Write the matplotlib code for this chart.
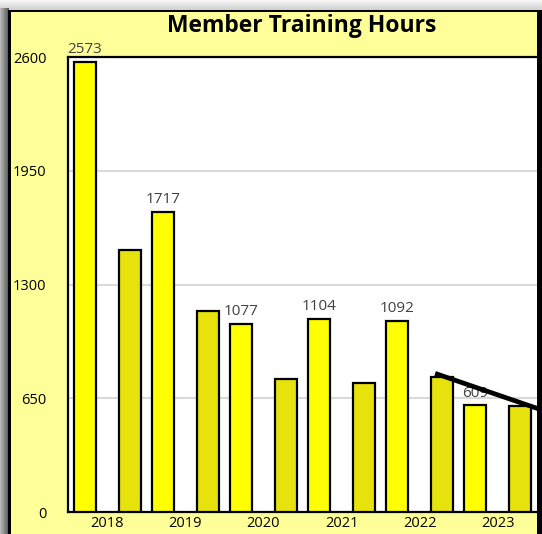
import matplotlib
matplotlib.use("Agg")
import matplotlib.pyplot as plt
import numpy as np
from matplotlib.patches import Rectangle

# ---- data ----
years = ["2018", "2019", "2020", "2021", "2022", "2023"]
bright_values = [2573, 1717, 1077, 1104, 1092, 609]
dark_values = [1497, 1146, 760, 740, 772, 605]
bright_labels = ["2573", "1717", "1077", "1104", "1092", "609"]
trend_pos = [4.2, 5.6]
trend_values = [792, 578]
y_ticks = [0, 650, 1300, 1950, 2600]

W, H = 542, 534
fig = plt.figure(figsize=(W / 100, H / 100), dpi=100)
fig.patch.set_facecolor("#F2F2F2")

# background frame drawn in pixel coordinates
bg = fig.add_axes([0, 0, 1, 1], zorder=-10)
bg.set_xlim(0, W)
bg.set_ylim(H, 0)
bg.axis("off")
top_grad = np.linspace(0.97, 0.82, 10)[:, None] * np.ones((1, 2))
bg.imshow(np.dstack([top_grad] * 3), extent=(0, W, 10, 0), aspect="auto", interpolation="bilinear")
left_grad = np.ones((2, 1)) * np.linspace(0.72, 0.35, 9)[None, :]
bg.imshow(np.dstack([left_grad] * 3), extent=(0, 9, H, 8), aspect="auto", interpolation="bilinear")
bg.add_patch(Rectangle((8, 9.5), W - 8, H, facecolor="black", edgecolor="none"))
bg.add_patch(Rectangle((11, 12), 537 - 11, H, facecolor="#FFFF99", edgecolor="none"))
bg.set_xlim(0, W)
bg.set_ylim(H, 0)

# main axes
left_px, right_px, top_px, bot_px = 68, 537, 57, 512
ax = fig.add_axes([left_px / W, (H - bot_px) / H, (right_px - left_px) / W, (bot_px - top_px) / H])
ax.set_facecolor("white")

x = np.arange(len(years))
off = 0.288
bw = 0.28
ax.bar(x - off, bright_values, width=bw, color="#FFFF00", edgecolor="black", linewidth=1.6, zorder=3)
ax.bar(x + off, dark_values, width=bw, color="#E8E20C", edgecolor="black", linewidth=1.6, zorder=3)

for xi, v, lab in zip(x - off, bright_values, bright_labels):
    ax.annotate(lab, (xi, v), xytext=(0, 3.5), textcoords="offset points", ha="center", va="bottom",
                fontsize=11, color="#404040", family="Open Sans", annotation_clip=False, zorder=5)

ax.plot(trend_pos, trend_values, color="black", linewidth=3.4, zorder=6, solid_capstyle="butt")

ax.set_xlim(-0.506, 5.506)
ax.set_ylim(0, 2600)
ax.set_yticks(y_ticks)
ax.set_yticklabels([str(t) for t in y_ticks], fontsize=10.5, family="Open Sans")
ax.set_xticks(x)
ax.set_xticklabels(years, fontsize=10.5, family="Open Sans")
ax.tick_params(axis="both", length=0)
ax.tick_params(axis="y", pad=15.5)
ax.tick_params(axis="x", pad=3)
ax.yaxis.grid(True, color="#D9D9D9", linewidth=1.5, zorder=0)
ax.set_axisbelow(True)
for s in ax.spines.values():
    s.set_color("black")
    s.set_linewidth(1.6)
ax.spines["right"].set_visible(False)

fig.text(302 / W, 1 - 26 / H, "Member Training Hours", ha="center", va="center",
         fontsize=16.5, fontweight="bold", family="Open Sans", color="black")

fig.savefig("out.png", dpi=100)
